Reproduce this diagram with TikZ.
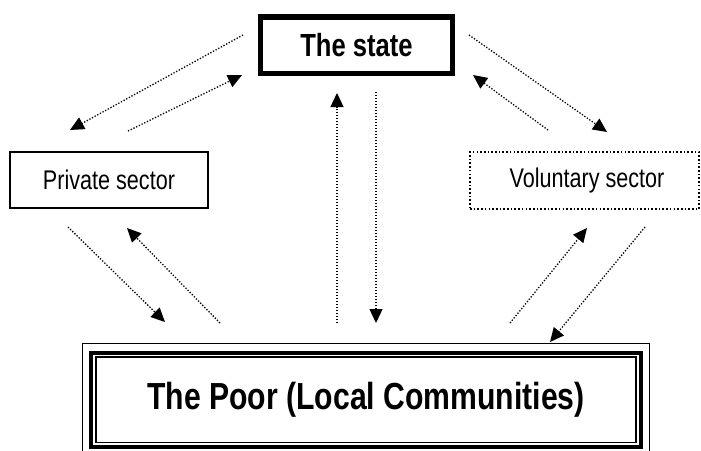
\documentclass[tikz,border=0pt]{standalone}
\usepackage{fontspec}
\newfontfamily\narrowsans[FakeStretch=0.8]{Liberation Sans}
\usetikzlibrary{arrows.meta}
\begin{document}
\begin{tikzpicture}[x=1pt,y=-1pt,
  flow/.style={line width=1.3pt, dash pattern=on 1.3pt off 1.7pt,
    -{Triangle[length=14pt,width=13pt]}},
  boxlabel/.style={font=\narrowsans\fontsize{27}{30}\selectfont, inner sep=0pt}]
\useasboundingbox (0,0) rectangle (701,450);
% boxes
\node[draw, line width=5.5pt, minimum width=192pt, minimum height=56.5pt,
  font=\narrowsans\bfseries\fontsize{32}{36}\selectfont, inner sep=0pt]
  (state) at (356.5,45.25) {\raisebox{-3pt}{The state}};
\node[draw, line width=1.5pt, minimum width=198pt, minimum height=56pt, boxlabel]
  (private) at (109,180) {\raisebox{-3pt}{Private sector}};
\node[draw, line width=1.8pt, dash pattern=on 1.6pt off 2.1pt,
  minimum width=229pt, minimum height=57pt, boxlabel]
  (voluntary) at (584.5,180.5) {\hspace{5pt}Voluntary sector};
\node[draw, line width=4pt, minimum width=550pt, minimum height=94.5pt,
  font=\narrowsans\bfseries\fontsize{37.7}{42}\selectfont, inner sep=0pt]
  (poor) at (366,399.75) {\raisebox{4.5pt}{The Poor (Local Communities)}};
\draw[line width=1.5pt] ([shift={(-6.5,-7)}]poor.north west) rectangle ([shift={(6.5,7)}]poor.south east);
\draw[line width=1.5pt] ([shift={(7,6.5)}]poor.north west) rectangle ([shift={(-7,-6.5)}]poor.south east);
% arrow end points
\coordinate (a1s) at (243,35);  \coordinate (a1e) at (70,130);
\coordinate (a2s) at (128,131); \coordinate (a2e) at (242,75);
\coordinate (a3s) at (469,35);  \coordinate (a3e) at (607,132);
\coordinate (a4s) at (548,130); \coordinate (a4e) at (473,75);
\coordinate (a5s) at (68,227);  \coordinate (a5e) at (165,322);
\coordinate (a6s) at (220,323); \coordinate (a6e) at (127,228);
\coordinate (a7s) at (337,323); \coordinate (a7e) at (337,93);
\coordinate (a8s) at (376,92);  \coordinate (a8e) at (376,323);
\coordinate (a9s) at (510,323); \coordinate (a9e) at (587,228);
\coordinate (a10s) at (645,227); \coordinate (a10e) at (550,342);
\foreach \i in {1,...,10} \draw[flow] (a\i s) -- (a\i e);
\end{tikzpicture}
\end{document}
